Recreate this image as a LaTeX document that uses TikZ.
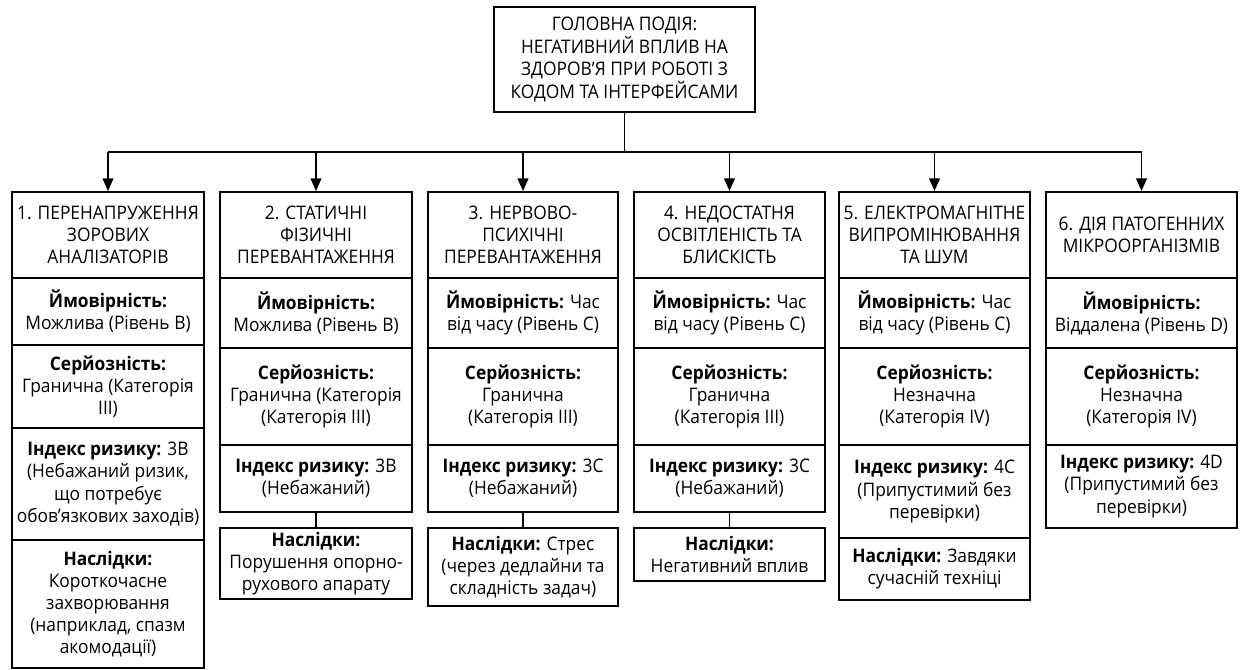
\documentclass[tikz,border=0pt]{standalone}
\usepackage{fontspec}
\setmainfont{Open Sans}[FakeStretch=0.93]
\usetikzlibrary{arrows.meta}

\tikzset{
  cell/.style={draw, line width=1.4pt, align=center, inner sep=0pt,
    font=\fontsize{14}{16.6}\selectfont},
  mainbox/.style={cell, font=\fontsize{14}{16.9}\selectfont},
  wire/.style={line width=1.4pt},
  arr/.style={wire, -{Triangle[length=9.5pt,width=8pt]}}
}

% box given by name, left, right, top, bottom (pixel grid), contents
\newcommand\cellat[7][]{%
  \node[cell, #1, minimum width={(#4-#3)*0.75pt}, minimum height={(#6-#5)*0.75pt}]
    (#2) at ({(#3+#4)/2},{(#5+#6)/2}) {#7};}

\begin{document}
\begin{tikzpicture}[x=0.75pt,y=-0.75pt]
\useasboundingbox[fill=white] (0,0) rectangle (1240,670);

% main event
\cellat[mainbox]{top}{494}{755}{7}{112}{ГОЛОВНА ПОДІЯ:\\НЕГАТИВНИЙ ВПЛИВ НА\\ЗДОРОВ’Я ПРИ РОБОТІ З\\КОДОМ ТА ІНТЕРФЕЙСАМИ}

% column 1
\cellat{h1}{12}{204}{192}{278}{1. ПЕРЕНАПРУЖЕННЯ\\ЗОРОВИХ\\АНАЛІЗАТОРІВ}
\cellat{p1}{12}{204}{278}{345}{\textbf{Ймовірність:}\\Можлива (Рівень В)}
\cellat{s1}{12}{204}{345}{428}{\textbf{Серйозність:}\\Гранична (Категорія\\III)}
\cellat{i1}{12}{204}{428}{540}{\textbf{Індекс ризику:} 3В\\(Небажаний ризик,\\що потребує\\обов'язкових заходів)}
\cellat{c1}{12}{204}{540}{668}{\textbf{Наслідки:}\\Короткочасне\\захворювання\\(наприклад, спазм\\акомодації)}

% column 2
\cellat{h2}{220}{412}{192}{278}{2. СТАТИЧНІ\\ФІЗИЧНІ\\ПЕРЕВАНТАЖЕННЯ}
\cellat{p2}{220}{412}{278}{348}{\textbf{Ймовірність:}\\Можлива (Рівень В)}
\cellat{s2}{220}{412}{348}{445}{\textbf{Серйозність:}\\Гранична (Категорія\\(Категорія III)}
\cellat{i2}{220}{412}{445}{512}{\textbf{Індекс ризику:} 3В\\(Небажаний)}
\cellat{c2}{220}{412}{528}{599}{\textbf{Наслідки:}\\Порушення опорно-\\рухового апарату}

% column 3
\cellat{h3}{428}{618}{192}{278}{3. НЕРВОВО-\\ПСИХІЧНІ\\ПЕРЕВАНТАЖЕННЯ}
\cellat{p3}{428}{618}{278}{348}{\textbf{Ймовірність:} Час\\від часу (Рівень С)}
\cellat{s3}{428}{618}{348}{445}{\textbf{Серйозність:}\\Гранична\\(Категорія III)}
\cellat{i3}{428}{618}{445}{512}{\textbf{Індекс ризику:} 3С\\(Небажаний)}
\cellat{c3}{428}{618}{528}{606}{\textbf{Наслідки:} Стрес\\(через дедлайни та\\складність задач)}

% column 4
\cellat{h4}{634}{825}{192}{278}{4. НЕДОСТАТНЯ\\ОСВІТЛЕНІСТЬ ТА\\БЛИСКІСТЬ}
\cellat{p4}{634}{825}{278}{348}{\textbf{Ймовірність:} Час\\від часу (Рівень С)}
\cellat{s4}{634}{825}{348}{445}{\textbf{Серйозність:}\\Гранична\\(Категорія III)}
\cellat{i4}{634}{825}{445}{512}{\textbf{Індекс ризику:} 3С\\(Небажаний)}
\cellat{c4}{634}{825}{528}{581}{\textbf{Наслідки:}\\Негативний вплив}

% column 5
\cellat{h5}{839}{1030}{192}{278}{5. ЕЛЕКТРОМАГНІТНЕ\\ВИПРОМІНЮВАННЯ\\ТА ШУМ}
\cellat{p5}{839}{1030}{278}{348}{\textbf{Ймовірність:} Час\\від часу (Рівень С)}
\cellat{s5}{839}{1030}{348}{445}{\textbf{Серйозність:}\\Незначна\\(Категорія IV)}
\cellat{i5}{839}{1030}{445}{538}{\textbf{Індекс ризику:} 4С\\(Припустимий без\\перевірки)}
\cellat{c5}{839}{1030}{538}{600}{\textbf{Наслідки:} Завдяки\\сучасній техніці}

% column 6
\cellat{h6}{1046}{1237}{192}{278}{6. ДІЯ ПАТОГЕННИХ\\МІКРООРГАНІЗМІВ}
\cellat{p6}{1046}{1237}{278}{348}{\textbf{Ймовірність:}\\Віддалена (Рівень D)}
\cellat{s6}{1046}{1237}{348}{445}{\textbf{Серйозність:}\\Незначна\\(Категорія IV)}
\cellat{i6}{1046}{1237}{445}{528}{\textbf{Індекс ризику:} 4D\\(Припустимий без\\перевірки)}

% distribution bus
\coordinate (bus) at (624.5,152);
\draw[wire] (top.south) -- (top.south |- bus);
\draw[wire] (h1.north |- bus) -- (h6.north |- bus);
\foreach \k in {1,...,6}
  \draw[arr] (h\k.north |- bus) -- (h\k.north);

% links to detached consequence boxes
\draw[wire] (i2.south) -- (c2.north);
\draw[wire] (i3.south) -- (c3.north);
\draw[wire] (i4.south) -- (c4.north);
\end{tikzpicture}
\end{document}
